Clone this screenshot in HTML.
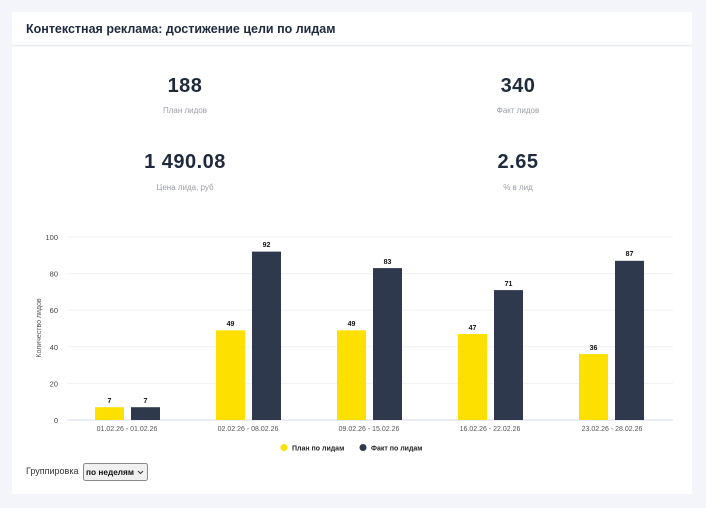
<!DOCTYPE html>
<html><head><meta charset="utf-8"><style>
html,body{margin:0;padding:0;background:#f4f5fa;width:706px;height:508px;overflow:hidden}
svg{display:block;font-family:"Liberation Sans","DejaVu Sans",sans-serif}
</style></head><body>
<svg width="706" height="508" viewBox="0 0 706 508">
<rect x="12" y="12" width="680" height="482" fill="#fff"/>
<line x1="12" y1="45.5" x2="692" y2="45.5" stroke="#e6ebf3" stroke-width="1.5"/>
<text x="26" y="33" font-size="12.5" font-weight="bold" fill="#1f2a3c">Контекстная реклама: достижение цели по лидам</text>
<g text-anchor="middle" fill="#1f2a3c" font-weight="bold" font-size="20" letter-spacing="0.5">
<text x="185" y="92">188</text><text x="518" y="92">340</text>
<text x="185" y="168">1 490.08</text><text x="518" y="168">2.65</text>
</g>
<g text-anchor="middle" fill="#9a9ea6" font-size="8">
<text x="185" y="113">План лидов</text><text x="518" y="113">Факт лидов</text>
<text x="185" y="190">Цена лида, руб</text><text x="518" y="190">% в лид</text>
</g>
<g stroke="#eef0f4" stroke-width="1">
<line x1="67" y1="237" x2="673" y2="237"/><line x1="67" y1="273.6" x2="673" y2="273.6"/>
<line x1="67" y1="310.2" x2="673" y2="310.2"/><line x1="67" y1="346.8" x2="673" y2="346.8"/>
<line x1="67" y1="383.4" x2="673" y2="383.4"/>
</g>
<line x1="67" y1="420" x2="673" y2="420" stroke="#dde2ee" stroke-width="1.2"/>
<g text-anchor="end" font-size="7.5" fill="#444">
<text x="58" y="240">100</text><text x="58" y="276.6">80</text><text x="58" y="313.2">60</text>
<text x="58" y="349.8">40</text><text x="58" y="386.4">20</text><text x="58" y="423">0</text>
</g>
<text transform="translate(41,328) rotate(-90)" text-anchor="middle" font-size="7" fill="#555">Количество лидов</text>
<g>
<rect x="95" y="407.2" width="29" height="12.8" fill="#fde000"/>
<rect x="131" y="407.2" width="29" height="12.8" fill="#2e394d"/>
<rect x="216" y="330.3" width="29" height="89.7" fill="#fde000"/>
<rect x="252" y="251.6" width="29" height="168.4" fill="#2e394d"/>
<rect x="337" y="330.3" width="29" height="89.7" fill="#fde000"/>
<rect x="373" y="268.1" width="29" height="151.9" fill="#2e394d"/>
<rect x="458" y="334" width="29" height="86" fill="#fde000"/>
<rect x="494" y="290.1" width="29" height="129.9" fill="#2e394d"/>
<rect x="579" y="354.1" width="29" height="65.9" fill="#fde000"/>
<rect x="615" y="260.8" width="29" height="159.2" fill="#2e394d"/>
</g>
<g text-anchor="middle" font-size="7" font-weight="bold" fill="#111">
<text x="109.5" y="403">7</text><text x="145.5" y="403">7</text>
<text x="230.5" y="326">49</text><text x="266.5" y="247">92</text>
<text x="351.5" y="326">49</text><text x="387.5" y="264">83</text>
<text x="472.5" y="330">47</text><text x="508.5" y="286">71</text>
<text x="593.5" y="350">36</text><text x="629.5" y="256">87</text>
</g>
<g text-anchor="middle" font-size="7" fill="#555">
<text x="127" y="431">01.02.26 - 01.02.26</text>
<text x="248" y="431">02.02.26 - 08.02.26</text>
<text x="369" y="431">09.02.26 - 15.02.26</text>
<text x="490" y="431">16.02.26 - 22.02.26</text>
<text x="612" y="431">23.02.26 - 28.02.26</text>
</g>
<circle cx="284" cy="447.5" r="3.5" fill="#fde000"/>
<text x="292" y="450.5" font-size="7" font-weight="bold" fill="#222">План по лидам</text>
<circle cx="363" cy="447.5" r="3.5" fill="#2e394d"/>
<text x="371" y="450.5" font-size="7" font-weight="bold" fill="#222">Факт по лидам</text>
<text x="26" y="474" font-size="9" fill="#333">Группировка</text>
<rect x="83.5" y="463.5" width="64" height="17" rx="2" fill="#f0f0f0" stroke="#8a8a8a"/>
<text x="86" y="475" font-size="8.5" font-weight="bold" fill="#111" textLength="48" lengthAdjust="spacingAndGlyphs">по неделям</text>
<path d="M138 471 l2.5 2.5 l2.5 -2.5" fill="none" stroke="#333" stroke-width="1"/>
</svg>
</body></html>
